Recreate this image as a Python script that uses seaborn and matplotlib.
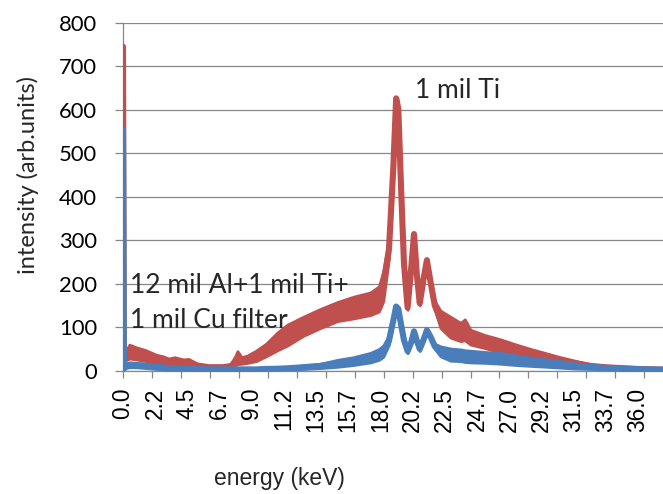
import matplotlib
matplotlib.use("Agg")
import matplotlib.pyplot as plt
import pandas as pd
import seaborn as sns

# ---------------- data ----------------
energy = [0.0, 0.06, 0.2, 0.45, 0.9, 1.6, 2.3, 2.8, 3.2, 3.6, 4.2, 4.6, 5.2, 6.0,
          7.0, 7.6, 8.0, 8.3, 8.7, 9.3, 10.0, 10.8, 11.5, 12.6, 13.8, 15.0, 16.1,
          17.3, 17.9, 18.2, 18.6, 18.9, 19.1, 19.25, 19.45, 19.65, 19.9, 20.15,
          20.35, 20.55, 20.75, 21.0, 21.25, 21.5, 21.8, 22.2, 22.9, 23.6, 23.9,
          24.3, 25.3, 26.4, 27.5, 28.5, 29.6, 30.6, 31.6, 32.7, 33.7, 34.8, 36.0,
          37.76]
# "1 mil Ti" : lower / upper edge of the noisy trace
ti_lo = [745, 20, 24, 28, 26, 22, 16, 15, 13, 13, 11, 11, 8, 6,
         6, 8, 15, 16, 18, 22, 33, 47, 58, 80, 98, 114, 120,
         128, 136, 160, 260, 450, 622, 600, 410, 240, 140, 230,
         310, 215, 150, 200, 250, 200, 140, 98, 76, 68, 70,
         60, 52, 42, 36, 29, 23, 17, 11, 7, 5, 3, 2,
         1]
ti_hi = [745, 30, 46, 60, 54, 47, 37, 33, 28, 31, 26, 27, 16, 10,
         10, 14, 45, 31, 35, 46, 62, 88, 106, 124, 142, 158, 170,
         180, 194, 230, 300, 480, 630, 605, 420, 250, 150, 240,
         318, 225, 160, 215, 258, 210, 160, 138, 124, 110, 118,
         94, 82, 72, 60, 50, 40, 31, 23, 15, 11, 9, 6,
         4]
# "12 mil Al+1 mil Ti+1 mil Cu filter"
cu_lo = [555, 2, 6, 8, 8, 6, 4, 3, 2, 2, 2, 1, 1, 1,
         1, 1, 1, 1, 1, 1, 2, 2, 3, 4, 6, 9, 13,
         19, 25, 32, 60, 110, 145, 140, 100, 65, 40, 60,
         88, 65, 45, 65, 90, 75, 50, 33, 23, 22, 20,
         19, 18, 16, 13, 11, 9, 7, 5, 4, 3, 2, 1,
         1]
cu_hi = [555, 8, 17, 19, 18, 16, 14, 12, 10, 9, 8, 7, 6, 5,
         5, 5, 5, 5, 5, 5, 6, 7, 8, 12, 16, 25, 31,
         41, 50, 58, 80, 120, 150, 145, 110, 75, 50, 70,
         93, 72, 55, 75, 96, 82, 62, 56, 51, 49, 47,
         46, 43, 41, 35, 30, 26, 22, 17, 13, 10, 8, 6,
         4]

series_names = ["1 mil Ti", "12 mil Al+1 mil Ti+1 mil Cu filter"]
series_colors = ["#C0504D", "#4A7EBB"]

x_tick_values = [0.0, 2.25, 4.5, 6.75, 9.0, 11.25, 13.5, 15.75, 18.0, 20.25,
                 22.5, 24.75, 27.0, 29.25, 31.5, 33.75, 36.0]
x_tick_labels = ["0.0", "2.2", "4.5", "6.7", "9.0", "11.2", "13.5", "15.7", "18.0",
                 "20.2", "22.5", "24.7", "27.0", "29.2", "31.5", "33.7", "36.0"]
x_minor_ticks = [0.0, 2.025, 4.05, 6.075, 8.1, 10.125, 12.15, 14.175, 16.2, 18.225,
                 20.25, 22.275, 24.3, 26.325, 28.35, 30.375, 32.4, 34.425, 36.45]
y_ticks = [0, 100, 200, 300, 400, 500, 600, 700, 800]

# ---------------- long table for seaborn ----------------
rows = []
for name, lo, hi in [(series_names[0], ti_lo, ti_hi), (series_names[1], cu_lo, cu_hi)]:
    for e, a, b in zip(energy, lo, hi):
        rows.append((name, e, a))
        rows.append((name, e, b))
df = pd.DataFrame(rows, columns=["series", "energy", "intensity"])

# ---------------- figure ----------------
sns.set_theme(style="white")
plt.rcParams["font.family"] = ["Lato", "DejaVu Sans"]

W, H = 663, 494
fig = plt.figure(figsize=(W / 100, H / 100), dpi=100)
ax = fig.add_axes([123 / W, 1 - 370.7 / H, 540 / W, 348 / H])

grid_c = "#878787"
for i, (name, col) in enumerate(zip(series_names, series_colors)):
    sns.lineplot(data=df[df["series"] == name], x="energy", y="intensity",
                 estimator="mean", errorbar=("pi", 100), color=col,
                 linewidth=4.4, solid_joinstyle="round", solid_capstyle="round",
                 err_kws={"alpha": 1, "zorder": 3 + 2 * i, "linewidth": 2.0,
                          "edgecolor": col, "joinstyle": "round"},
                 zorder=3.5 + 2 * i, ax=ax, legend=False)

ax.set_xlim(0, 37.76)
ax.set_ylim(0, 800)
ax.set_yticks(y_ticks)
ax.set_yticklabels([str(v) for v in y_ticks], fontsize=15.8)
ax.set_xticks(x_tick_values)
ax.set_xticklabels(x_tick_labels, rotation=90, fontsize=16.3,
                   family=["Liberation Sans", "DejaVu Sans"])
ax.set_xticks(x_minor_ticks, minor=True)
ax.xaxis.remove_overlapping_locs = False

ax.tick_params(axis="x", which="major", length=0, pad=12.2, colors="black")
ax.tick_params(axis="x", which="minor", bottom=True, length=5, width=0.9,
               color=grid_c)
ax.tick_params(axis="y", which="major", left=True, length=5.8, width=0.9,
               color=grid_c, pad=13, labelcolor="black")

ax.set_axisbelow(True)
ax.grid(axis="y", color=grid_c, linewidth=0.9)
ax.grid(axis="x", visible=False)
for s in ["top", "right"]:
    ax.spines[s].set_visible(False)
for s in ["left", "bottom"]:
    ax.spines[s].set_color(grid_c)
    ax.spines[s].set_linewidth(0.9)
ax.set_xlabel("")
ax.set_ylabel("")

fig.text(279 / W, 1 - 485 / H, "energy (keV)", ha="center", va="baseline",
         fontsize=16.5, family=["Liberation Sans", "DejaVu Sans"])
fig.text(27.5 / W, 1 - 174.5 / H, "intensity (arb.units)", rotation=90,
         ha="center", va="center", fontsize=17)

fig.text(415 / W, 1 - 97.5 / H, series_names[0], ha="left", va="baseline",
         fontsize=19)
fig.text(130 / W, 1 - 293 / H, "12 mil Al+1 mil Ti+", ha="left", va="baseline",
         fontsize=19)
fig.text(130 / W, 1 - 328 / H, "1 mil Cu filter", ha="left", va="baseline",
         fontsize=19)

fig.savefig("out.png", dpi=100)
